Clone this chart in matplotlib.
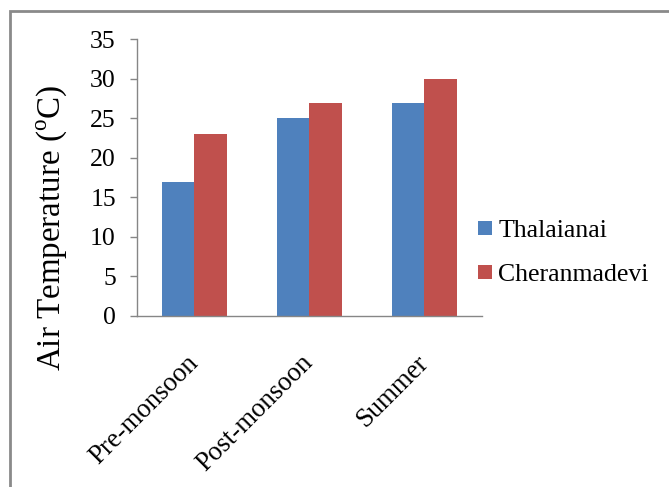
import matplotlib
matplotlib.use("Agg")
import matplotlib.pyplot as plt
from matplotlib.patches import Rectangle
import numpy as np

seasons = ["Pre-monsoon", "Post-monsoon", "Summer"]
thalaianai = [17, 25, 27]
cheranmadevi = [23, 27, 30]
y_ticks = [0, 5, 10, 15, 20, 25, 30, 35]

plt.rcParams["font.family"] = ["Liberation Serif", "DejaVu Serif"]
plt.rcParams["mathtext.fontset"] = "custom"
plt.rcParams["mathtext.rm"] = "Liberation Serif"

W, H = 669, 487
fig = plt.figure(figsize=(W / 100, H / 100), dpi=100)
ax = fig.add_axes([136.7 / W, 1 - 316 / H, (482 - 136.7) / W, (316 - 39.3) / H])

blue = "#4F81BD"
red = "#C0504D"
axis_gray = "#868686"

x = np.arange(len(seasons))
bw = 0.284
ax.bar(x - bw / 2, thalaianai, bw, color=blue, label="Thalaianai")
ax.bar(x + bw / 2, cheranmadevi, bw, color=red, label="Cheranmadevi")

ax.set_xlim(-0.5, len(seasons) - 0.5)
ax.set_ylim(0, 35)
ax.set_yticks(y_ticks)
ax.set_yticklabels([str(v) for v in y_ticks], fontsize=18.5)
ax.tick_params(axis="y", direction="out", length=5, width=1, color=axis_gray, pad=10)
ax.set_xticks(x)
ax.set_xticklabels(seasons, fontsize=19.3, rotation=45, ha="right", va="center",
                   rotation_mode="anchor")
ax.tick_params(axis="x", length=0, pad=31)

for side in ("top", "right"):
    ax.spines[side].set_visible(False)
for side in ("left", "bottom"):
    ax.spines[side].set_color(axis_gray)
    ax.spines[side].set_linewidth(1.0)

fig.text(52 / W, 1 - 228 / H, r"Air Temperature ($^{\rm o}$C)", rotation=90,
         ha="center", va="center", fontsize=23.8)

ax.legend(loc="upper left", bbox_to_anchor=(477.7 / W, 1 - 220 / H),
          bbox_transform=fig.transFigure, frameon=False, fontsize=18.5,
          handlelength=0.55, handleheight=0.5, handletextpad=0.25,
          labelspacing=0.86, borderpad=0, borderaxespad=0)

fig.add_artist(Rectangle((9.5 / W, -0.2), 2, 1 - 11.3 / H + 0.2,
                         transform=fig.transFigure, fill=False,
                         edgecolor="#8a8a8a", linewidth=2))

fig.savefig("out.png", dpi=100)
